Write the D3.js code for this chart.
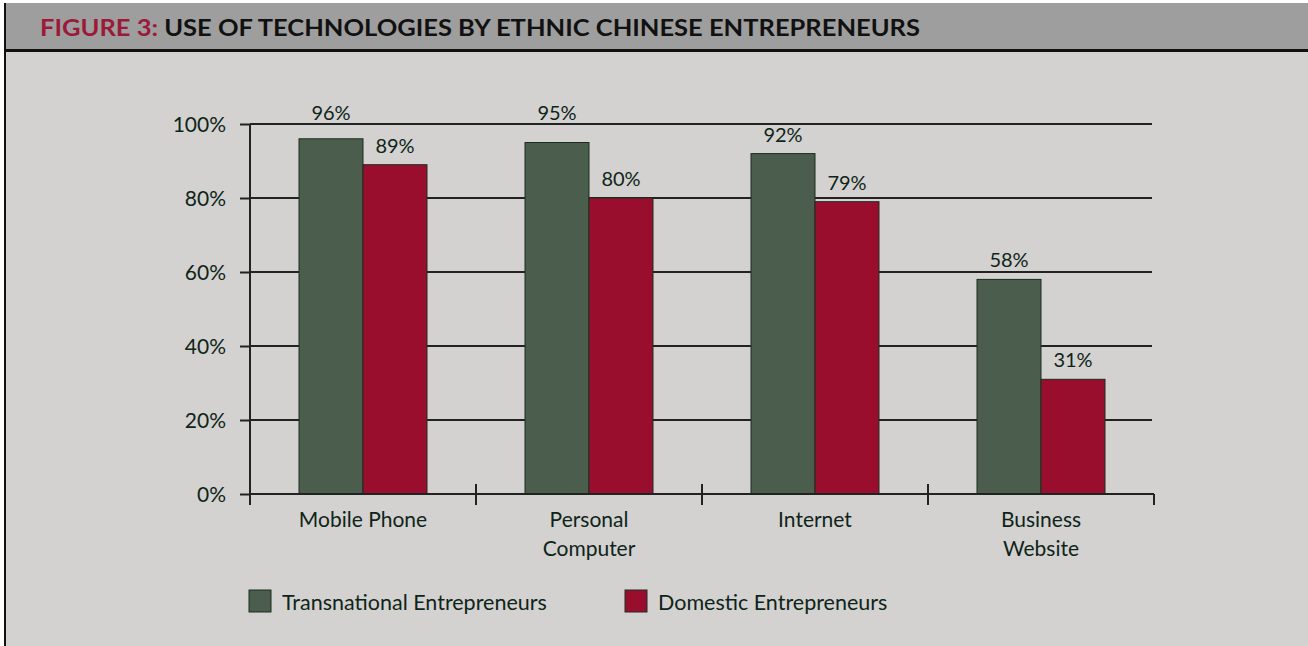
<!DOCTYPE html>
<html><head><meta charset="utf-8">
<script src="https://cdn.jsdelivr.net/npm/d3@7"></script>
<style>html,body{margin:0;padding:0;background:#fff;}svg{display:block;}</style>
</head><body>
<svg id="c" width="1308" height="646"></svg>
<script>
const categories = [["Mobile Phone"], ["Personal", "Computer"], ["Internet"], ["Business", "Website"]];
const seriesNames = ["Transnational Entrepreneurs", "Domestic Entrepreneurs"];
const transnational = [96, 95, 92, 58];
const domestic = [89, 80, 79, 31];
const yTicks = [0, 20, 40, 60, 80, 100];

const colors = ["#4b5d4d", "#9a0e2d"];
const textColor = "#0f2418";
const font = "Lato, 'Open Sans', sans-serif";

const svg = d3.select("#c");
// background
svg.append("rect").attr("x", 0).attr("y", 0).attr("width", 1308).attr("height", 646).attr("fill", "#d3d2d0");
svg.append("rect").attr("x", 0).attr("y", 0).attr("width", 1308).attr("height", 3).attr("fill", "#fff");
svg.append("rect").attr("x", 0).attr("y", 3).attr("width", 1308).attr("height", 47).attr("fill", "#9e9e9e");
svg.append("rect").attr("x", 0).attr("y", 49).attr("width", 1308).attr("height", 3).attr("fill", "#111");
svg.append("rect").attr("x", 0).attr("y", 0).attr("width", 4).attr("height", 646).attr("fill", "#fff");
svg.append("rect").attr("x", 4).attr("y", 3).attr("width", 2).attr("height", 643).attr("fill", "#111");

const title = svg.append("text").attr("x", 40).attr("y", 36)
  .attr("font-family", font).attr("font-size", 22).attr("font-weight", 700)
  .attr("textLength", 880).attr("lengthAdjust", "spacingAndGlyphs");
title.append("tspan").attr("fill", "#9b1a3a").text("FIGURE 3: ");
title.append("tspan").attr("fill", "#111").text("USE OF TECHNOLOGIES BY ETHNIC CHINESE ENTREPRENEURS");

const x0 = 250, x1 = 1154, yTop = 124, yBot = 494;
const x = d3.scaleBand().domain(d3.range(categories.length)).range([x0, x1]).paddingInner(0).paddingOuter(0);
const inner = d3.scaleBand().domain([0, 1]).range([0, 128]);
const y = d3.scaleLinear().domain([0, 100]).range([yBot, yTop]);

const g = svg.append("g");
// gridlines
g.selectAll("line.grid").data(yTicks.filter(d => d > 0)).enter().append("line")
  .attr("x1", x0).attr("x2", 1152).attr("y1", d => y(d)).attr("y2", d => y(d))
  .attr("stroke", "#222").attr("stroke-width", 2);

// bars
const data = categories.map((c, i) => [transnational[i], domestic[i]]);
const groups = g.selectAll("g.cat").data(data).enter().append("g")
  .attr("transform", (d, i) => `translate(${x(i) + (x.bandwidth() - 128) / 2},0)`);
groups.selectAll("rect").data(d => d).enter().append("rect")
  .attr("x", (d, j) => inner(j)).attr("width", inner.bandwidth())
  .attr("y", d => y(d)).attr("height", d => yBot - y(d))
  .attr("fill", (d, j) => colors[j]).attr("stroke", "#1c2c20").attr("stroke-width", 1);
function labelY(v) {
  const base = y(v) - 12;
  const top = y(100);
  // lift labels that would sit on the top gridline
  return (base > top - 4 && base < top + 14) ? top - 4 : base;
}
groups.selectAll("text").data(d => d).enter().append("text")
  .attr("x", (d, j) => inner(j) + inner.bandwidth() / 2).attr("y", d => labelY(d))
  .attr("text-anchor", "middle").attr("font-family", font).attr("font-size", 20)
  .attr("fill", textColor).text(d => d + "%");

// y axis
const yAxis = d3.axisLeft(y).tickValues(yTicks).tickFormat(d => d + "%").tickSize(10).tickPadding(14);
const ya = svg.append("g").attr("transform", `translate(${x0},0)`).call(yAxis);
ya.select(".domain").remove();
ya.selectAll(".tick line").attr("stroke", "#222").attr("stroke-width", 2);
ya.selectAll(".tick text").attr("font-family", font).attr("font-size", 21).attr("fill", textColor).attr("dy", "0.38em");
svg.append("line").attr("x1", x0).attr("x2", x0).attr("y1", yTop).attr("y2", yBot + 11).attr("stroke", "#222").attr("stroke-width", 2);

// x axis
svg.append("line").attr("x1", x0).attr("x2", x1).attr("y1", yBot).attr("y2", yBot).attr("stroke", "#222").attr("stroke-width", 2);
const bounds = d3.range(categories.length + 1).map(i => i < categories.length ? x(i) : x1);
svg.selectAll("line.xt").data(bounds).enter().append("line")
  .attr("x1", d => d).attr("x2", d => d).attr("y1", yBot).attr("y2", yBot + 11)
  .attr("stroke", "#222").attr("stroke-width", 2);
svg.selectAll("line.xt2").data(bounds.slice(1, -1)).enter().append("line")
  .attr("x1", d => d).attr("x2", d => d).attr("y1", yBot - 10).attr("y2", yBot)
  .attr("stroke", "#222").attr("stroke-width", 2);

const cl = svg.selectAll("text.cat").data(categories).enter().append("text")
  .attr("x", (d, i) => x(i) + x.bandwidth() / 2).attr("y", 527)
  .attr("text-anchor", "middle").attr("font-family", font).attr("font-size", 21).attr("fill", textColor);
cl.selectAll("tspan").data(d => d).enter().append("tspan")
  .attr("x", function () { return d3.select(this.parentNode).attr("x"); })
  .attr("dy", (d, j) => j === 0 ? 0 : 29).text(d => d);

// legend
const legX = [249, 625];
const leg = svg.selectAll("g.leg").data(seriesNames).enter().append("g")
  .attr("transform", (d, i) => `translate(${legX[i]},590)`);
leg.append("rect").attr("width", 22).attr("height", 22).attr("fill", (d, i) => colors[i]).attr("stroke", "#1c2c20");
leg.append("text").attr("x", 33).attr("y", 20).attr("font-family", font).attr("font-size", 21.5)
  .attr("fill", textColor).text(d => d);
</script>
</body></html>
